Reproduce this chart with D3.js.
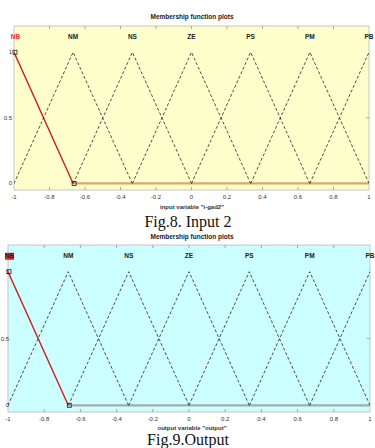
<!DOCTYPE html>
<html>
<head>
<meta charset="utf-8">
<script src="https://cdn.jsdelivr.net/npm/d3@7"></script>
<style>
	html, body { margin: 0; padding: 0; background: white; }
	svg { display: block; }
	.tick-label { font-family: "Liberation Sans", Arial, sans-serif; font-size: 6px; fill: #333; }
	.mf-label { font-family: "Liberation Sans", Arial, sans-serif; font-size: 6.5px; font-weight: bold; fill: #222; }
	.title { font-family: "Liberation Sans", Arial, sans-serif; font-size: 6.5px; font-weight: bold; fill: #222; }
	.caption { font-family: "Liberation Serif", "Times New Roman", serif; font-size: 16px; fill: #111; }
</style>
</head>
<body>
<script>
// data
const mfNames = ["NB", "NM", "NS", "ZE", "PS", "PM", "PB"];
const mfCenters = [-1, -0.667, -0.333, 0, 0.333, 0.667, 1];
const mfHalfWidth = 0.333;
const xTicks = [-1, -0.8, -0.6, -0.4, -0.2, 0, 0.2, 0.4, 0.6, 0.8, 1];
const yTicks = [0, 0.5, 1];
const selectedMF = "NB";

const panels = [
	{
		top: 26, bottom: 190, left: 14, right: 369,
		bg: "#ffffcc", zeroColor: "#d9a673", labelBoxed: false,
		titleY: 19, xlabel: "input variable \"i-gad2\"", xlabelY: 209,
		caption: "Fig.8. Input 2", captionY: 227
	},
	{
		top: 245, bottom: 412, left: 8, right: 370,
		bg: "#ccffff", zeroColor: "#a9a9a9", labelBoxed: true,
		titleY: 239, xlabel: "output variable \"output\"", xlabelY: 430,
		caption: "Fig.9.Output", captionY: 445
	}
];

const W = 375, H = 448;
const svg = d3.select("body").append("svg")
	.attr("width", W)
	.attr("height", H);

svg.append("rect").attr("width", W).attr("height", H).attr("fill", "white");

function triangle(c) {
	return [[c - mfHalfWidth, 0], [c, 1], [c + mfHalfWidth, 0]];
}

function drawPanel(p) {
	const x = d3.scaleLinear().domain([-1, 1]).range([p.left, p.right]);
	const y = d3.scaleLinear().domain([-0.05, 1.2]).range([p.bottom, p.top]);
	const g = svg.append("g");

	g.append("rect")
		.attr("x", p.left).attr("y", p.top)
		.attr("width", p.right - p.left).attr("height", p.bottom - p.top)
		.attr("fill", p.bg)
		.attr("stroke", "#b8b8b8")
		.attr("stroke-width", 0.8);

	// ticks on all four sides, matlab style
	const inner = xTicks.slice(1, -1);
	g.selectAll(".tt").data(inner).join("line")
		.attr("x1", d => x(d)).attr("x2", d => x(d))
		.attr("y1", p.top).attr("y2", p.top + 3)
		.attr("stroke", "#888").attr("stroke-width", 0.7);
	g.selectAll(".bt").data(inner).join("line")
		.attr("x1", d => x(d)).attr("x2", d => x(d))
		.attr("y1", p.bottom).attr("y2", p.bottom - 3)
		.attr("stroke", "#888").attr("stroke-width", 0.7);
	g.selectAll(".rt").data([0.5]).join("line")
		.attr("x1", p.right).attr("x2", p.right - 3)
		.attr("y1", d => y(d)).attr("y2", d => y(d))
		.attr("stroke", "#888").attr("stroke-width", 0.7);

	g.selectAll(".xl").data(xTicks).join("text")
		.attr("class", "tick-label")
		.attr("x", d => x(d))
		.attr("y", p.bottom + 9)
		.attr("text-anchor", "middle")
		.text(d => d3.format("")(d).replace("−", "-"));

	// keep "0.5" inside the window on the narrow panel
	g.selectAll(".yl").data(yTicks).join("text")
		.attr("class", "tick-label")
		.attr("x", Math.max(p.left - 2, 9))
		.attr("y", d => y(d) + 2)
		.attr("text-anchor", "end")
		.text(d => d);

	// selected mf also runs along zero
	const line = d3.line().x(d => x(d[0])).y(d => y(d[1]));
	const selIdx = mfNames.indexOf(selectedMF);
	const selEnd = mfCenters[selIdx] + mfHalfWidth;
	g.append("path")
		.attr("d", line([[selEnd, 0], [1, 0]]))
		.attr("stroke", p.zeroColor)
		.attr("stroke-width", 2.2)
		.attr("fill", "none");

	const clipId = "clip" + p.top;
	g.append("clipPath").attr("id", clipId)
		.append("rect")
		.attr("x", p.left).attr("y", p.top)
		.attr("width", p.right - p.left).attr("height", p.bottom - p.top);

	g.append("g").attr("clip-path", `url(#${clipId})`)
		.selectAll("path")
		.data(mfCenters.map((c, i) => ({ name: mfNames[i], pts: triangle(c) })))
		.join("path")
		.attr("d", d => line(d.pts))
		.attr("fill", "none")
		.attr("stroke", d => d.name === selectedMF ? "#cc2020" : "#222")
		.attr("stroke-width", d => d.name === selectedMF ? 1.4 : 0.8)
		.attr("stroke-dasharray", d => d.name === selectedMF ? null : "3,2");

	// handles on the selected mf
	const handles = triangle(mfCenters[selIdx]).filter(d => d[0] >= -1);
	g.selectAll(".hd").data(handles).join("rect")
		.attr("x", d => x(d[0]) - 1)
		.attr("y", d => y(d[1]) - 2)
		.attr("width", 4).attr("height", 4)
		.attr("fill", "none")
		.attr("stroke", "#222")
		.attr("stroke-width", 0.8);

	// mf names above peaks
	const labelY = y(1.1);
	if (p.labelBoxed) {
		g.append("rect")
			.attr("x", x(mfCenters[selIdx]) - 3)
			.attr("y", labelY - 5.5)
			.attr("width", 9).attr("height", 7)
			.attr("fill", "#e03030");
	}
	g.selectAll(".ml").data(mfNames).join("text")
		.attr("class", "mf-label")
		.attr("x", (d, i) => x(mfCenters[i]) + (i === 0 ? 1.5 : 0))
		.attr("y", labelY)
		.attr("text-anchor", "middle")
		.style("fill", d => d === selectedMF && !p.labelBoxed ? "#e03030" : null)
		.text(d => d);

	svg.append("text")
		.attr("class", "title")
		.attr("x", 192).attr("y", p.titleY)
		.attr("text-anchor", "middle")
		.text("Membership function plots");

	svg.append("text")
		.attr("class", "tick-label")
		.attr("x", 192).attr("y", p.xlabelY)
		.attr("text-anchor", "middle")
		.style("font-weight", "bold")
		.text(p.xlabel);

	svg.append("text")
		.attr("class", "caption")
		.attr("x", 188).attr("y", p.captionY)
		.attr("text-anchor", "middle")
		.text(p.caption);
}

panels.forEach(drawPanel);
</script>
</body>
</html>
